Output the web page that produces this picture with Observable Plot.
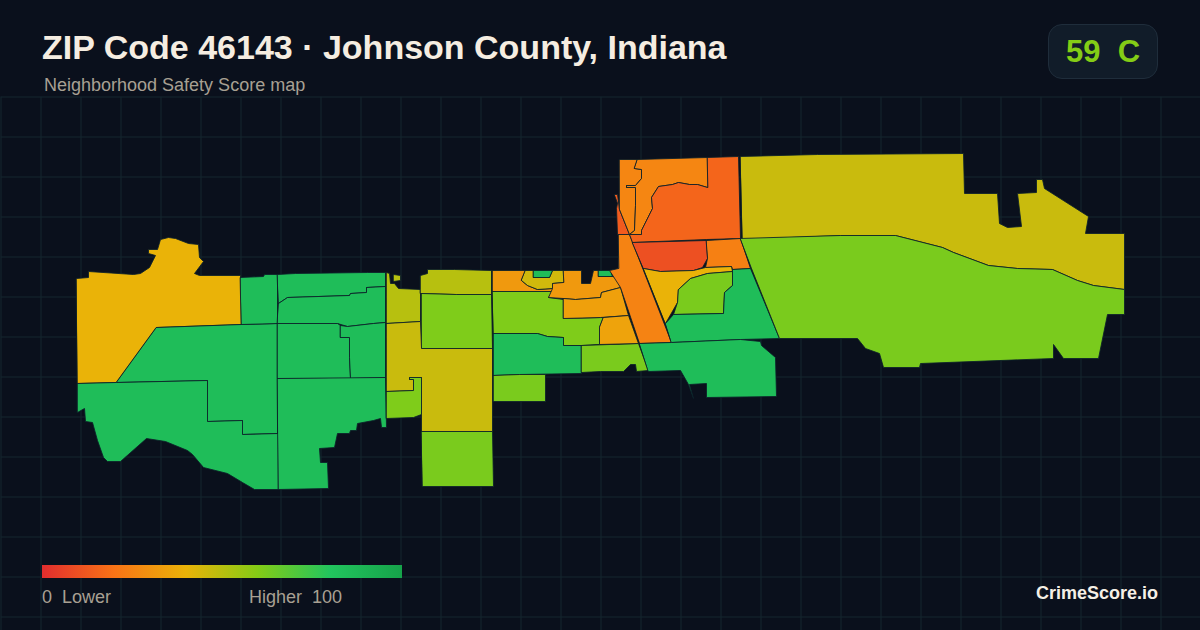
<!DOCTYPE html>
<html><head><meta charset="utf-8">
<script src="https://cdn.jsdelivr.net/npm/d3@7"></script>
<script src="https://cdn.jsdelivr.net/npm/@observablehq/plot@0.6"></script>
<style>
html,body{margin:0;padding:0;background:#0a101c;width:1200px;height:630px;overflow:hidden}
body{position:relative;font-family:"Liberation Sans",Arial,sans-serif}
#head{position:relative;height:96px}
#title{position:absolute;left:42px;top:27px;font-size:34px;font-weight:700;color:#f5ede1;line-height:40px;white-space:nowrap}
#sub{position:absolute;left:44px;top:75px;font-size:18px;line-height:20px;color:#a8a093;white-space:nowrap}
#badge{position:absolute;left:1048px;top:24px;width:108px;height:53px;border:1px solid #1f2d3b;border-radius:14px;background:#111c29;color:#84cc16;font-size:31px;font-weight:700;line-height:53px;text-align:center;white-space:pre}
#chart{position:absolute;left:0;top:96px}
#chart svg{display:block;background:transparent}
#bar{position:absolute;left:42px;top:565px;width:360px;height:13px}
.lg{position:absolute;top:587px;font-size:18px;line-height:20px;color:#a8a093;white-space:pre}
#brand{position:absolute;right:42px;top:583px;font-size:18px;line-height:20px;font-weight:700;color:#f5efe6}
</style></head><body>
<div id="head">
<div id="title">ZIP Code 46143 · Johnson County, Indiana</div>
<div id="sub">Neighborhood Safety Score map</div>
<div id="badge">59  C</div>
</div>
<div id="chart"></div>
<div id="bar"></div>
<div class="lg" style="left:42px">0  Lower</div>
<div class="lg" style="left:249px">Higher  100</div>
<div id="brand">CrimeScore.io</div>
<script>
const scoreStops = [0,20,40,60,80,100];
const scoreColors = ["#e12d2e","#f97316","#eab308","#84cc16","#22c55e","#16a34a"];

const tractScores = [40,85,85,85,85,85,85,85,85,
 50,50,50,61,46.5,61,62,
 32,45,85,61,85,62,62,
 32,85,34,35,25,13,26,26,16,10,24,40,62,85,85,46.5,62];

const tractRings = [
 [[76,278],[88,277],[88,271],[133,274],[140,273],[149,267],[155,255],[148,253],[148,249],[157,249],[160,239],[168,237],[175,238],[188,243],[198,244],[199,257],[203,261],[194,273],[199,275],[240,275],[241,324],[156,327],[116,382],[77,383]],
 [[156,327],[241,324],[277,323],[277,433],[242,434],[242,420],[207,421],[207,380],[116,382]],
 [[77,383],[116,382],[207,380],[207,421],[242,420],[242,434],[278,433],[278,489],[254,489],[242,482],[227,473],[203,467],[192,454],[187,450],[165,441],[146,438],[120,461],[107,461],[103,457],[97,440],[92,422],[85,421],[84,408],[77,412]],
 [[240,277],[263,276],[264,274],[277,274],[277,323],[241,324]],
 [[277,274],[295,273],[367,272],[385,272],[385,286],[366,287],[366,292],[350,293],[349,295],[287,297],[278,303]],
 [[278,303],[287,297],[349,295],[350,293],[366,292],[366,287],[385,286],[385,322],[373,323],[347,326],[337,323],[277,323]],
 [[277,323],[337,323],[340,325],[340,337],[349,337],[349,357],[350,378],[277,378]],
 [[340,325],[347,326],[373,323],[385,322],[385,377],[350,378],[349,357],[349,337],[340,337]],
 [[277,378],[385,377],[386,427],[381,427],[380,418],[373,420],[357,423],[356,430],[350,430],[349,433],[337,433],[334,447],[319,448],[320,462],[327,462],[328,488],[278,489]],

 [[386,272],[389,273],[390,283],[394,283],[398,288],[420,289],[420,321],[386,323]],
 [[393,274],[400,275],[400,280],[393,281]],
 [[420,275],[427,273],[427,269],[454,269],[491,270],[491,294],[455,294],[420,293]],
 [[421,293],[456,294],[491,294],[492,348],[421,348]],
 [[386,323],[420,321],[421,348],[492,348],[492,431],[421,431],[421,377],[409,377],[409,379],[413,379],[413,390],[386,391]],
 [[386,391],[413,390],[413,379],[409,379],[409,377],[421,377],[421,414],[413,417],[386,418]],
 [[421,431],[492,431],[493,486],[422,486]],

 [[492,270],[525,270],[521,280],[527,285],[537,289],[552,288],[552,291],[492,291]],
 [[525,270],[533,270],[533,277],[549,277],[552,270],[563,270],[563,282],[552,283],[552,288],[537,289],[527,285],[521,280]],
 [[533,270],[552,270],[549,277],[533,277]],
 [[492,291],[552,291],[548,297],[563,299],[563,318],[603,317],[599,327],[599,344],[581,345],[563,345],[563,337],[547,336],[537,333],[493,333]],
 [[493,333],[537,333],[547,336],[563,337],[563,345],[581,345],[581,373],[519,374],[493,375]],
 [[493,375],[519,374],[545,374],[545,401],[493,401]],
 [[581,345],[638,343],[648,370],[636,371],[635,364],[630,364],[623,371],[600,371],[581,372]],

 [[563,270],[581,270],[581,283],[590,283],[593,270],[598,270],[598,276],[612,276],[617,277],[620,287],[601,292],[600,297],[575,299],[563,298],[548,297],[552,288],[552,283],[563,282]],
 [[598,270],[610,270],[612,276],[598,276]],
 [[563,298],[575,299],[600,297],[601,292],[620,287],[628,315],[600,317],[563,318]],
 [[603,317],[628,315],[638,343],[599,344],[599,327]],
 [[618,234],[629,234],[671,342],[639,343],[620,287],[609,270],[618,268]],
 [[614,194],[617,194],[619,209],[629,234],[617,234],[616,208],[617,203]],
 [[619,159],[637,159],[634,168],[641,169],[641,178],[635,185],[626,185],[626,187],[635,187],[635,205],[634,230],[629,234],[619,209]],
 [[637,159],[707,157],[707,187],[697,184],[689,184],[678,182],[672,184],[658,186],[651,197],[652,208],[641,230],[641,234],[629,234],[634,230],[635,205],[635,187],[626,187],[626,185],[635,185],[641,178],[641,169],[634,168]],
 [[707,157],[738,156],[740,238],[706,239],[632,242],[629,234],[641,234],[641,230],[652,208],[651,197],[658,186],[672,184],[678,182],[689,184],[697,184],[707,187]],
 [[632,242],[706,240],[707,258],[702,267],[693,270],[660,271],[643,268]],
 [[706,240],[740,238],[750,268],[732,269],[731,266],[705,267],[707,258]],
 [[643,268],[660,271],[693,270],[705,267],[731,266],[732,271],[707,273],[690,278],[678,289],[677,302],[665,323]],
 [[678,289],[690,278],[707,273],[732,271],[732,285],[724,292],[723,313],[673,314],[677,302]],
 [[665,323],[673,314],[723,313],[724,292],[732,285],[732,269],[750,268],[779,338],[740,339],[671,342]],
 [[639,343],[671,342],[740,339],[760,341],[761,345],[775,357],[776,396],[706,397],[706,383],[689,384],[693,398],[688,384],[680,370],[648,371]],
 [[740,156],[817,154],[963,153],[964,193],[997,193],[999,223],[1007,227],[1021,226],[1017,193],[1036,192],[1036,179],[1042,179],[1044,188],[1088,216],[1085,233],[1124,233],[1124,289],[1093,285],[1077,280],[1052,269],[1017,268],[988,265],[953,252],[942,247],[895,235],[840,235],[742,239]],
 [[740,238],[840,235],[895,235],[942,247],[953,252],[988,265],[1017,268],[1052,269],[1077,280],[1093,285],[1124,289],[1124,314],[1107,314],[1098,358],[1063,358],[1053,344],[1053,358],[920,363],[919,367],[883,367],[879,353],[865,348],[857,338],[779,338],[751,268]]
];

const tracts = tractRings.map((ring, i) => ({
  type: "Feature",
  properties: {score: tractScores[i]},
  geometry: {type: "Polygon", coordinates: [[...ring, ring[0]]]}
}));

const gridX = d3.range(0, 1201, 40);
const gridY = d3.range(96, 630, 40);
const grid = {
  type: "MultiLineString",
  coordinates: [
    ...gridX.map(x => [[x, 96], [x, 630]]),
    ...gridY.map(y => [[0, y], [1200, y]])
  ]
};

const chart = Plot.plot({
  width: 1200,
  height: 534,
  margin: 0,
  style: {background: "transparent"},
  projection: d3.geoIdentity().translate([0, -96]),
  color: {type: "linear", domain: scoreStops, range: scoreColors, interpolate: "rgb"},
  marks: [
    Plot.geo(grid, {stroke: "#14262f", strokeWidth: 1, dx: 0.5, dy: 0.5}),
    Plot.geo(tracts, {fill: d => d.properties.score, stroke: "#0c2029", strokeWidth: 0.85})
  ]
});
document.getElementById("chart").append(chart);
document.getElementById("bar").style.background =
  "linear-gradient(to right," + scoreColors.map((c, i) => c + " " + scoreStops[i] + "%").join(",") + ")";
</script>
</body></html>
